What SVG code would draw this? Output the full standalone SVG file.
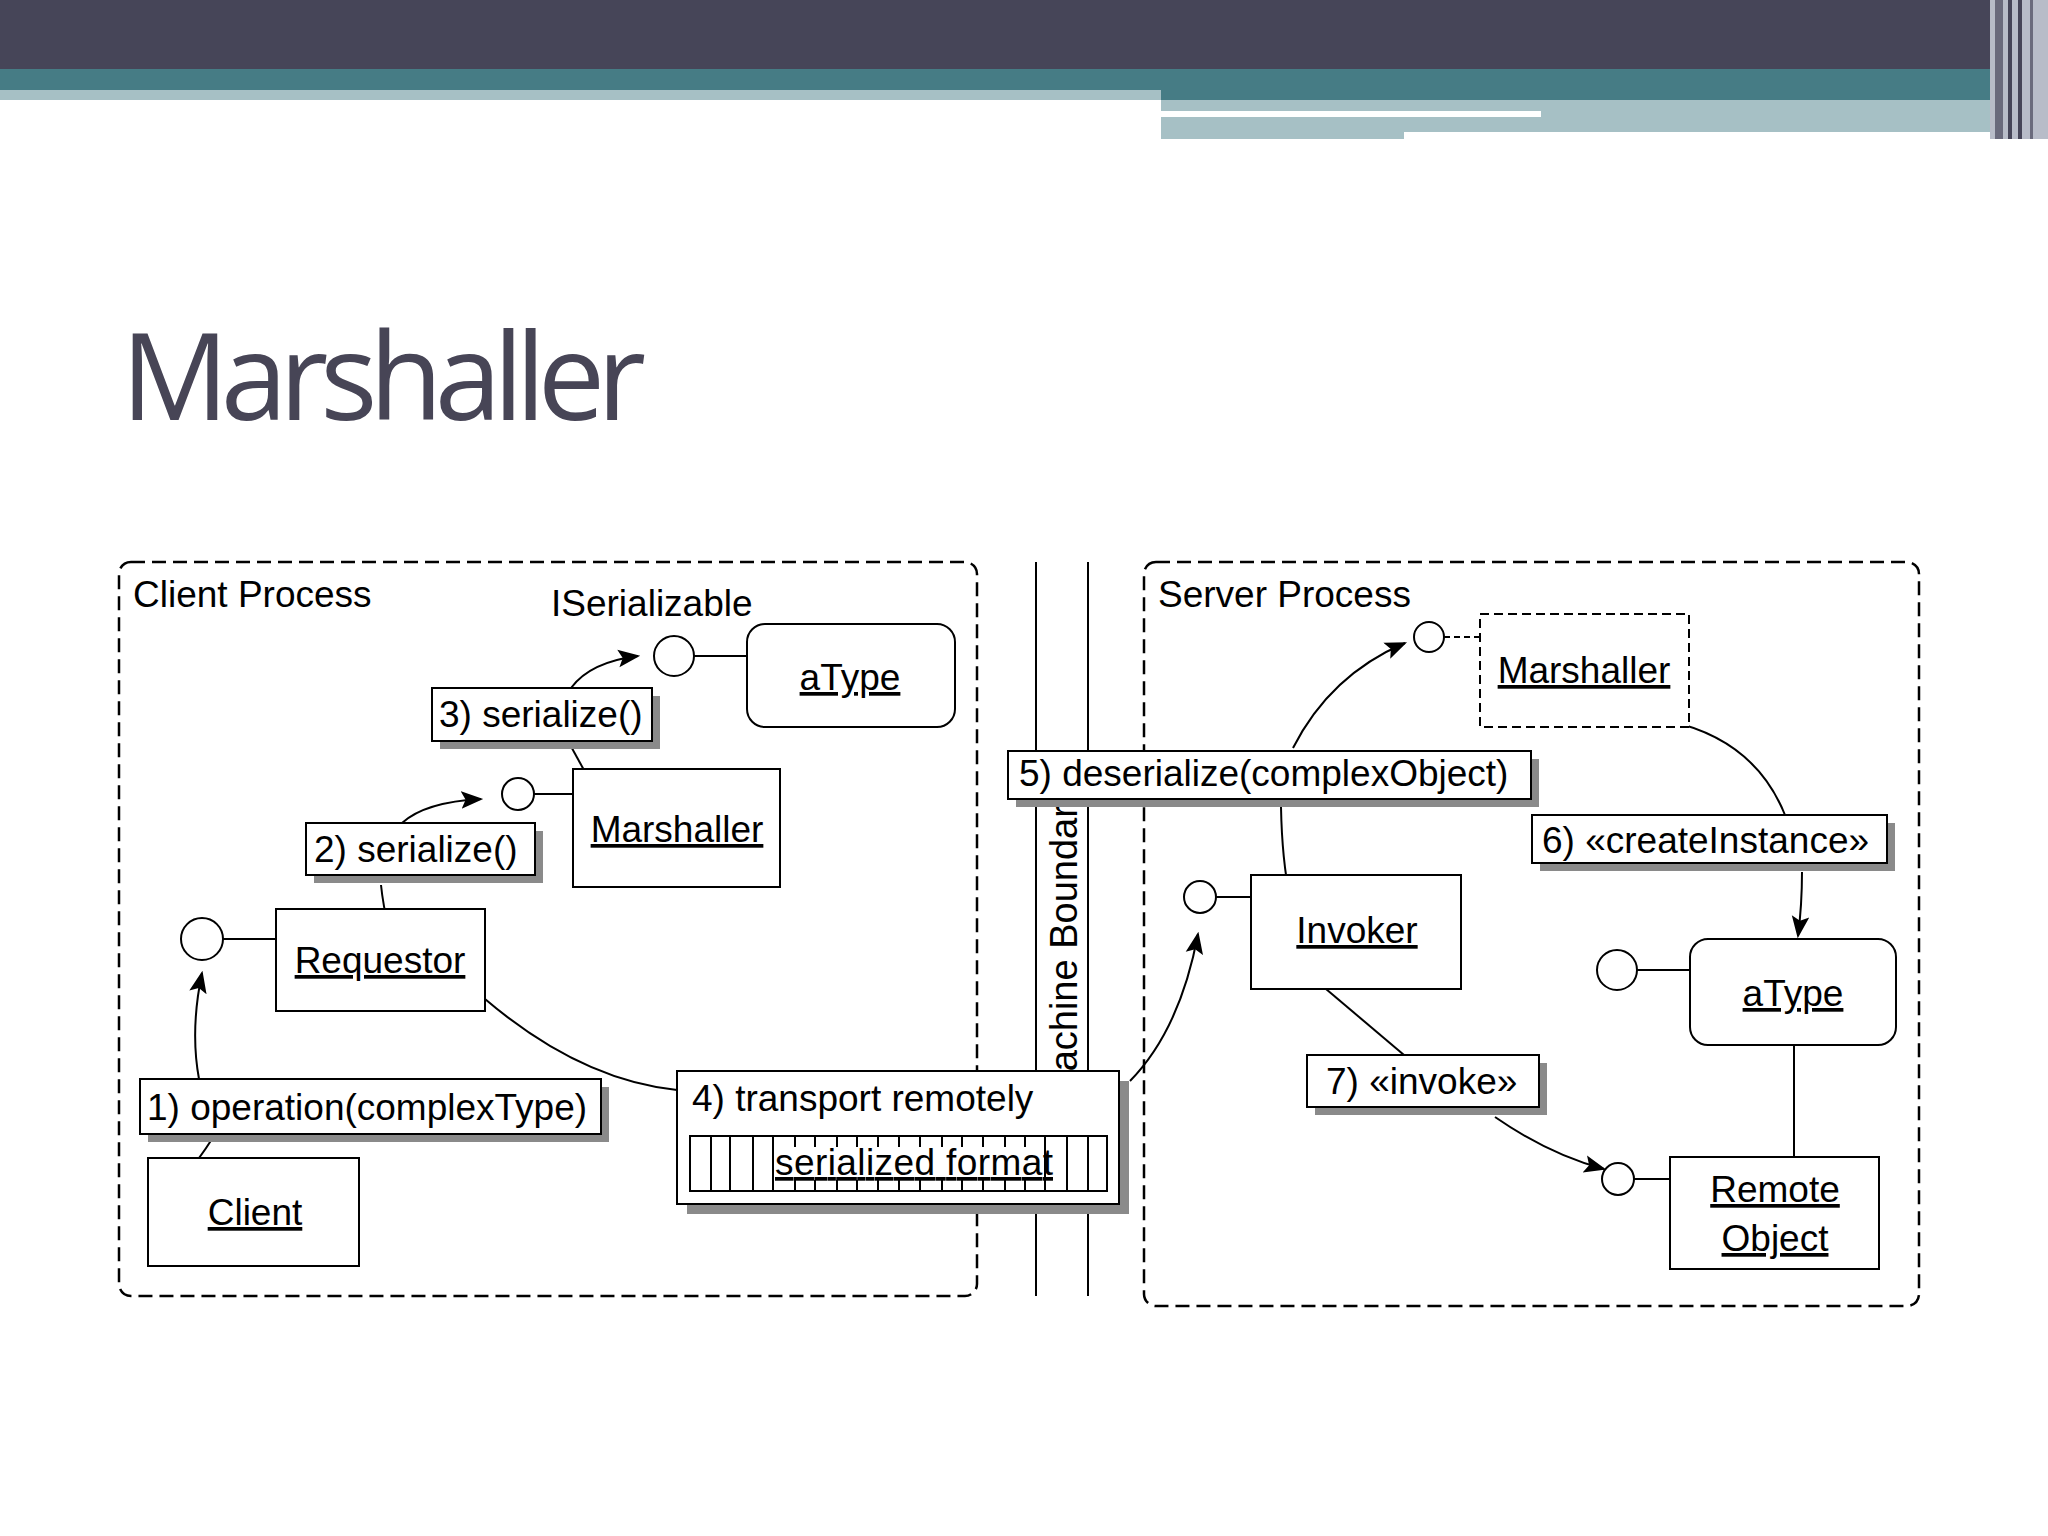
<svg xmlns="http://www.w3.org/2000/svg" width="2048" height="1536" viewBox="0 0 2048 1536">
<defs>
<marker id="ah" viewBox="0 0 10 10" refX="9" refY="5" markerWidth="9" markerHeight="9" orient="auto" markerUnits="userSpaceOnUse"><path d="M0,1 L10,5 L0,9 L2,5 Z" fill="#000"/></marker>
<marker id="ahb" viewBox="0 0 10 10" refX="9" refY="5" markerWidth="22" markerHeight="22" orient="auto" markerUnits="userSpaceOnUse"><path d="M0,1 L10,5 L0,9 L2,5 Z" fill="#000"/></marker>
</defs>
<style>
text{font-family:"Liberation Sans",Arial,sans-serif;font-size:37px;fill:#000}
.u{text-decoration:underline}
.box{fill:#fff;stroke:#000;stroke-width:2}
.sh{fill:#8a8a8a}
.ln{fill:none;stroke:#000;stroke-width:2}
.dash{fill:none;stroke:#000;stroke-width:2.5;stroke-dasharray:14 7}
.c{fill:#fff;stroke:#000;stroke-width:2}
.mid{text-anchor:middle}
</style>
<rect width="2048" height="1536" fill="#fff"/>
<g id="banner">
<rect x="0" y="0" width="2048" height="69" fill="#464558"/>
<rect x="0" y="69" width="2048" height="31" fill="#467c85"/>
<rect x="0" y="90" width="1161" height="10" fill="#a6c0c5"/>
<rect x="1161" y="100" width="830" height="39" fill="#a6c0c5"/>
<rect x="1161" y="111" width="380" height="6" fill="#fff"/>
<rect x="1404" y="132" width="600" height="7" fill="#fff"/>
<rect x="1990" y="0" width="58" height="139" fill="#b8bcc8"/>
<rect x="1995" y="0" width="8" height="139" fill="#6a6a7c"/>
<rect x="2008" y="0" width="4" height="139" fill="#464558"/>
<rect x="2018" y="0" width="4" height="139" fill="#464558"/>
<rect x="2030" y="0" width="3" height="139" fill="#6a6a7c"/>
</g>
<text x="121" y="420" style="font-family:'Open Sans','DejaVu Sans',sans-serif;font-size:120px;fill:#474556" textLength="525">Marshaller</text>

<g id="containers">
<rect x="119" y="562" width="858" height="734" rx="12" class="dash"/>
<text x="133" y="607">Client Process</text>
<rect x="1144" y="562" width="775" height="744" rx="12" class="dash"/>
<text x="1158" y="607">Server Process</text>
<line x1="1036" y1="562" x2="1036" y2="1296" class="ln"/>
<line x1="1088" y1="562" x2="1088" y2="1296" class="ln"/>
<text transform="translate(1077,1103) rotate(-90)" style="font-size:38px">Machine Boundary</text>
</g>

<g id="connectors">
<path d="M571,688 Q590,662 638,656" class="ln" marker-end="url(#ahb)"/>
<line x1="674" y1="656" x2="747" y2="656" class="ln"/>
<line x1="568" y1="741" x2="590" y2="781" class="ln"/>
<line x1="534" y1="794" x2="573" y2="794" class="ln"/>
<path d="M402,823 Q425,802 481,799" class="ln" marker-end="url(#ahb)"/>
<path d="M381,885 Q383,905 389,930" class="ln"/>
<line x1="223" y1="939" x2="276" y2="939" class="ln"/>
<path d="M199,1079 Q190,1030 202,973" class="ln" marker-end="url(#ahb)"/>
<path d="M212,1139 Q200,1158 187,1173" class="ln"/>
<path d="M485,999 Q580,1080 677,1090" class="ln"/>
<path d="M1130,1081 Q1180,1030 1198,934" class="ln" marker-end="url(#ahb)"/>
<line x1="1216" y1="897" x2="1251" y2="897" class="ln"/>
<path d="M1281,807 Q1282,860 1290,898" class="ln"/>
<path d="M1293,748 Q1330,675 1405,643" class="ln" marker-end="url(#ahb)"/>
<line x1="1444" y1="637" x2="1480" y2="637" class="ln" stroke-dasharray="6 4"/>
<path d="M1669,721 Q1755,740 1785,815" class="ln"/>
<path d="M1802,872 Q1802,905 1798,936" class="ln" marker-end="url(#ahb)"/>
<line x1="1637" y1="970" x2="1690" y2="970" class="ln"/>
<line x1="1794" y1="1045" x2="1794" y2="1157" class="ln"/>
<line x1="1634" y1="1179" x2="1670" y2="1179" class="ln"/>
<line x1="1326" y1="989" x2="1404" y2="1055" class="ln"/>
<path d="M1495,1117 Q1550,1155 1604,1169" class="ln" marker-end="url(#ahb)"/>
</g>

<g id="client-atype">
<rect x="747" y="624" width="208" height="103" rx="18" class="box"/>
<text x="850" y="690" class="mid u">aType</text>
</g>
<g id="iserializable">
<text x="551" y="616">ISerializable</text>
<circle cx="674" cy="656" r="20" class="c"/>
</g>
<g id="client-marshaller">
<rect x="573" y="769" width="207" height="118" class="box"/>
<text x="677" y="842" class="mid u">Marshaller</text>
<circle cx="518" cy="794" r="16" class="c"/>
</g>
<g id="requestor">
<rect x="276" y="909" width="209" height="102" class="box"/>
<text x="380" y="973" class="mid u">Requestor</text>
<circle cx="202" cy="939" r="21" class="c"/>
</g>
<g id="client">
<rect x="148" y="1158" width="211" height="108" class="box"/>
<text x="255" y="1225" class="mid u">Client</text>
</g>
<g id="label3">
<rect x="440" y="696" width="220" height="53" class="sh"/>
<rect x="432" y="688" width="220" height="53" class="box"/>
<text x="439" y="727">3) serialize()</text>
</g>
<g id="label2">
<rect x="314" y="831" width="229" height="52" class="sh"/>
<rect x="306" y="823" width="229" height="52" class="box"/>
<text x="314" y="862">2) serialize()</text>
</g>
<g id="label1">
<rect x="148" y="1087" width="461" height="55" class="sh"/>
<rect x="140" y="1079" width="461" height="55" class="box"/>
<text x="147" y="1120">1) operation(complexType)</text>
</g>
<g id="transport">
<rect x="687" y="1081" width="442" height="133" class="sh"/>
<rect x="677" y="1071" width="442" height="133" class="box"/>
<text x="692" y="1111">4) transport remotely</text>
<rect x="690" y="1136" width="417" height="55" class="box"/>
<g class="ln">
<path d="M711,1136V1191M730,1136V1191M753,1136V1191M773,1136V1191M1045,1136V1191M1067,1136V1191M1088,1136V1191"/>
<path d="M795,1136v11M815,1136v11M837,1136v11M857,1136v11M878,1136v11M899,1136v11M920,1136v11M942,1136v11M962,1136v11M983,1136v11M1005,1136v11M1025,1136v11"/>
<path d="M795,1191v-11M815,1191v-11M837,1191v-11M857,1191v-11M878,1191v-11M899,1191v-11M920,1191v-11M942,1191v-11M962,1191v-11M983,1191v-11M1005,1191v-11M1025,1191v-11"/>
</g>
<text x="775" y="1175" class="u" textLength="278">serialized format</text>
</g>
<g id="label5">
<rect x="1016" y="759" width="523" height="48" class="sh"/>
<rect x="1008" y="751" width="523" height="48" class="box"/>
<text x="1019" y="786">5) deserialize(complexObject)</text>
</g>
<g id="invoker">
<rect x="1251" y="875" width="210" height="114" class="box"/>
<text x="1357" y="943" class="mid u">Invoker</text>
<circle cx="1200" cy="897" r="16" class="c"/>
</g>
<g id="server-marshaller">
<rect x="1480" y="614" width="209" height="113" fill="#fff" stroke="#000" stroke-width="2" stroke-dasharray="9 5"/>
<text x="1584" y="683" class="mid u">Marshaller</text>
<circle cx="1429" cy="637" r="15" class="c"/>
</g>
<g id="label6">
<rect x="1540" y="823" width="355" height="48" class="sh"/>
<rect x="1532" y="815" width="355" height="48" class="box"/>
<text x="1542" y="853">6) «createInstance»</text>
</g>
<g id="server-atype">
<rect x="1690" y="939" width="206" height="106" rx="18" class="box"/>
<text x="1793" y="1006" class="mid u">aType</text>
<circle cx="1617" cy="970" r="20" class="c"/>
</g>
<g id="label7">
<rect x="1315" y="1063" width="232" height="52" class="sh"/>
<rect x="1307" y="1055" width="232" height="52" class="box"/>
<text x="1326" y="1094">7) «invoke»</text>
</g>
<g id="remote-object">
<rect x="1670" y="1157" width="209" height="112" class="box"/>
<text x="1775" y="1202" class="mid u">Remote</text>
<text x="1775" y="1251" class="mid u">Object</text>
<circle cx="1618" cy="1179" r="16" class="c"/>
</g>
</svg>
